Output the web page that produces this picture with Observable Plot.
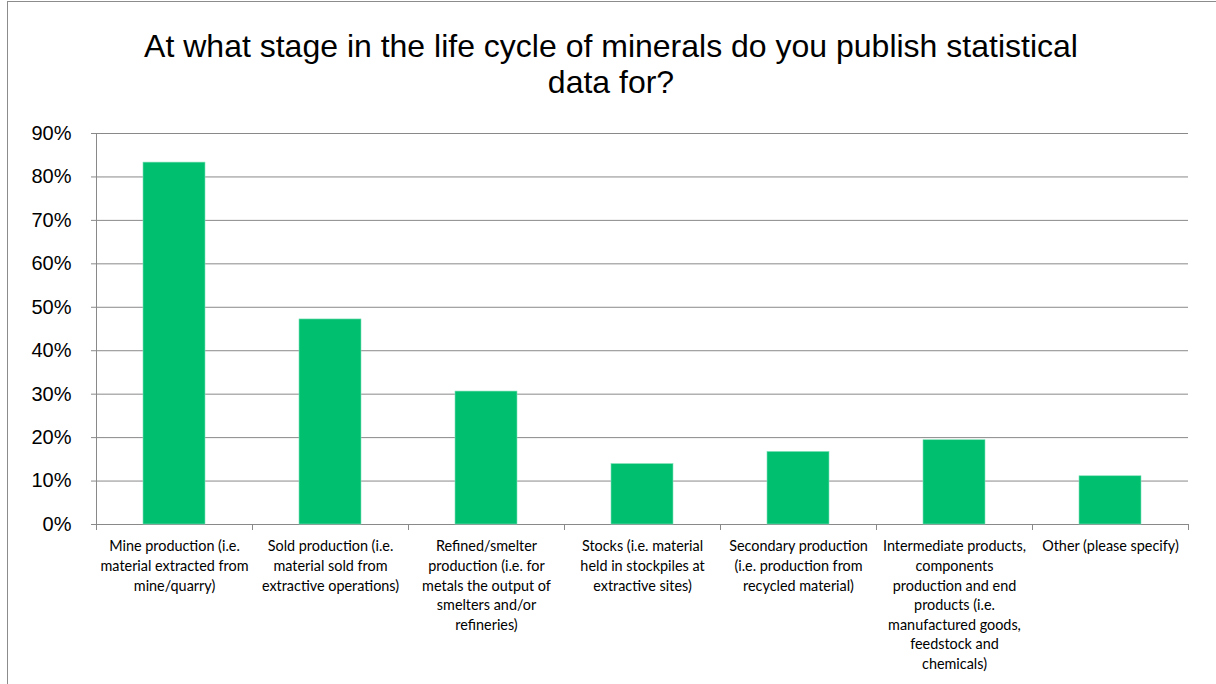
<!DOCTYPE html>
<html>
<head>
<meta charset="utf-8">
<script src="https://cdn.jsdelivr.net/npm/d3@7"></script>
<script src="https://cdn.jsdelivr.net/npm/@observablehq/plot@0.6"></script>
<style>
  html, body { margin: 0; padding: 0; background: #fff; }
  #wrap { position: relative; width: 1216px; height: 684px; overflow: hidden; }
  #border { position: absolute; left: 7px; top: 1px; width: 1300px; height: 800px; border: 1px solid #8c8c8c; box-sizing: border-box; }
  #title { position: absolute; left: 0; top: 29px; width: 1222px; text-align: center;
           font-family: "Liberation Sans", Arial, sans-serif; font-size: 32px; line-height: 35.5px; color: #000; }
  #chart { position: absolute; left: 0; top: 110px; }
</style>
</head>
<body>
<div id="wrap">
  <div id="border"></div>
  <div id="title">At what stage in the life cycle of minerals do you publish statistical<br>data for?</div>
  <div id="chart"></div>
</div>
<script>
const categories = [
  "Mine production (i.e. material extracted from mine/quarry)",
  "Sold production (i.e. material sold from extractive operations)",
  "Refined/smelter production (i.e. for metals the output of smelters and/or refineries)",
  "Stocks (i.e. material held in stockpiles at extractive sites)",
  "Secondary production (i.e. production from recycled material)",
  "Intermediate products, components production and end products (i.e. manufactured goods, feedstock and chemicals)",
  "Other (please specify)"
];
const tickLabels = [
  "Mine production (i.e.\nmaterial extracted from\nmine/quarry)",
  "Sold production (i.e.\nmaterial sold from\nextractive operations)",
  "Refined/smelter\nproduction (i.e. for\nmetals the output of\nsmelters and/or\nrefineries)",
  "Stocks (i.e. material\nheld in stockpiles at\nextractive sites)",
  "Secondary production\n(i.e. production from\nrecycled material)",
  "Intermediate products,\ncomponents\nproduction and end\nproducts (i.e.\nmanufactured goods,\nfeedstock and\nchemicals)",
  "Other (please specify)"
];
const values = [0.833, 0.472, 0.306, 0.139, 0.167, 0.194, 0.111];
const yTicks = [0, 0.1, 0.2, 0.3, 0.4, 0.5, 0.6, 0.7, 0.8, 0.9];

const data = categories.map((c, i) => ({category: c, value: values[i], label: tickLabels[i]}));

const width = 1216, height = 574;
const marginLeft = 96, marginRight = 28, marginTop = 23, marginBottom = 160;
const halfStep = (width - marginLeft - marginRight) / categories.length / 2;
const gridColor = "#898989";

const chart = Plot.plot({
  width, height, marginLeft, marginRight, marginTop, marginBottom,
  style: {background: "transparent", fontFamily: "'Liberation Sans', Arial, sans-serif"},
  x: {domain: categories, paddingInner: 0.6, paddingOuter: 0.3, axis: null},
  y: {domain: [0, 0.9], axis: null},
  marks: [
    Plot.ruleY(yTicks, {stroke: gridColor, strokeWidth: 1}),
    Plot.barY(data, {x: "category", y: "value", fill: "#00bf6f", stroke: "#7fdfb7", strokeWidth: 0.6}),
    Plot.ruleX([categories[0]], {x: d => d, y1: 0, y2: 0.9, dx: -halfStep, stroke: gridColor}),
    Plot.axisY({ticks: yTicks, tickFormat: d3.format(".0%"), tickSize: 5, tickPadding: 20,
      stroke: gridColor, fontSize: 20, fill: "#000", label: null}),
    Plot.axisX({tickSize: 6, dx: -halfStep, tickFormat: () => "", stroke: gridColor, label: null}),
    Plot.axisX({tickSize: 6, dx: halfStep, tickFormat: () => "", stroke: gridColor, label: null}),
    Plot.text(data, {x: "category", text: "label", frameAnchor: "bottom", lineAnchor: "top", dy: 13,
      lineHeight: 1.36, fontSize: 14.4, fontFamily: "Lato, 'Open Sans', sans-serif", fill: "#000"})
  ]
});
document.getElementById("chart").appendChild(chart);
</script>
</body>
</html>
